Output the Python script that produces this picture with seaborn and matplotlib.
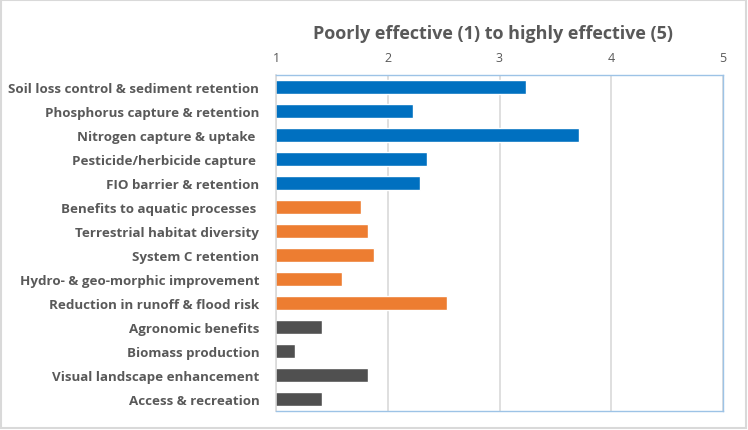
import matplotlib
matplotlib.use("Agg")
import matplotlib.pyplot as plt
import seaborn as sns
import pandas as pd
from matplotlib.patches import Rectangle

categories = [
    "Soil loss control & sediment retention",
    "Phosphorus capture & retention",
    "Nitrogen capture & uptake ",
    "Pesticide/herbicide capture ",
    "FIO barrier & retention",
    "Benefits to aquatic processes ",
    "Terrestrial habitat diversity",
    "System C retention",
    "Hydro- & geo-morphic improvement",
    "Reduction in runoff & flood risk",
    "Agronomic benefits",
    "Biomass production",
    "Visual landscape enhancement",
    "Access & recreation",
]
values = [3.24, 2.23, 3.71, 2.35, 2.29, 1.76, 1.82, 1.88, 1.59, 2.53, 1.41, 1.17, 1.82, 1.41]
groups = ["water"] * 5 + ["environment"] * 5 + ["social"] * 4
group_colors = {"water": "#0070C0", "environment": "#ED7D31", "social": "#505050"}
x_ticks = [1, 2, 3, 4, 5]
title = "Poorly effective (1) to highly effective (5)"

df = pd.DataFrame({"category": categories, "value": values, "group": groups})

sns.set_style("white")
plt.rcParams["font.family"] = ["Open Sans", "DejaVu Sans"]

fig = plt.figure(figsize=(7.48, 4.31), dpi=100)
ax = fig.add_axes([276 / 748, 1 - 412 / 431, (723 - 276) / 748, (412 - 76) / 431])

sns.barplot(data=df, y="category", x="value", hue="group", palette=group_colors,
            orient="h", dodge=False, width=0.6, legend=False, ax=ax, saturation=1)

ax.set_xlim(1, 5)
ax.set_xticks(x_ticks)
ax.set_xticklabels([str(t) for t in x_ticks])
ax.xaxis.tick_top()
ax.tick_params(axis="x", length=0, pad=8, labelsize=9, labelcolor="#595959")
ax.tick_params(axis="y", length=0, pad=12, labelsize=9.6, labelcolor="#595959")
for lbl in ax.get_yticklabels():
    lbl.set_fontweight("bold")
ax.set_xlabel("")
ax.set_ylabel("")
ax.grid(axis="x", color="#D9D9D9", linewidth=1.2)
ax.set_axisbelow(True)
for side in ["top", "right", "bottom"]:
    ax.spines[side].set_color("#9DC3E6")
    ax.spines[side].set_linewidth(1)
ax.spines["left"].set_color("#D9D9D9")
ax.spines["left"].set_linewidth(1.2)

fig.text(493 / 748, 1 - 34 / 431, title, ha="center", va="center",
         fontsize=13, fontweight="bold", color="#595959")

fig.patches.append(Rectangle((0.002, 0.004), 0.995, 0.993, transform=fig.transFigure,
                             fill=False, edgecolor="#D9D9D9", linewidth=1.5))

fig.savefig("out.png", dpi=100)
